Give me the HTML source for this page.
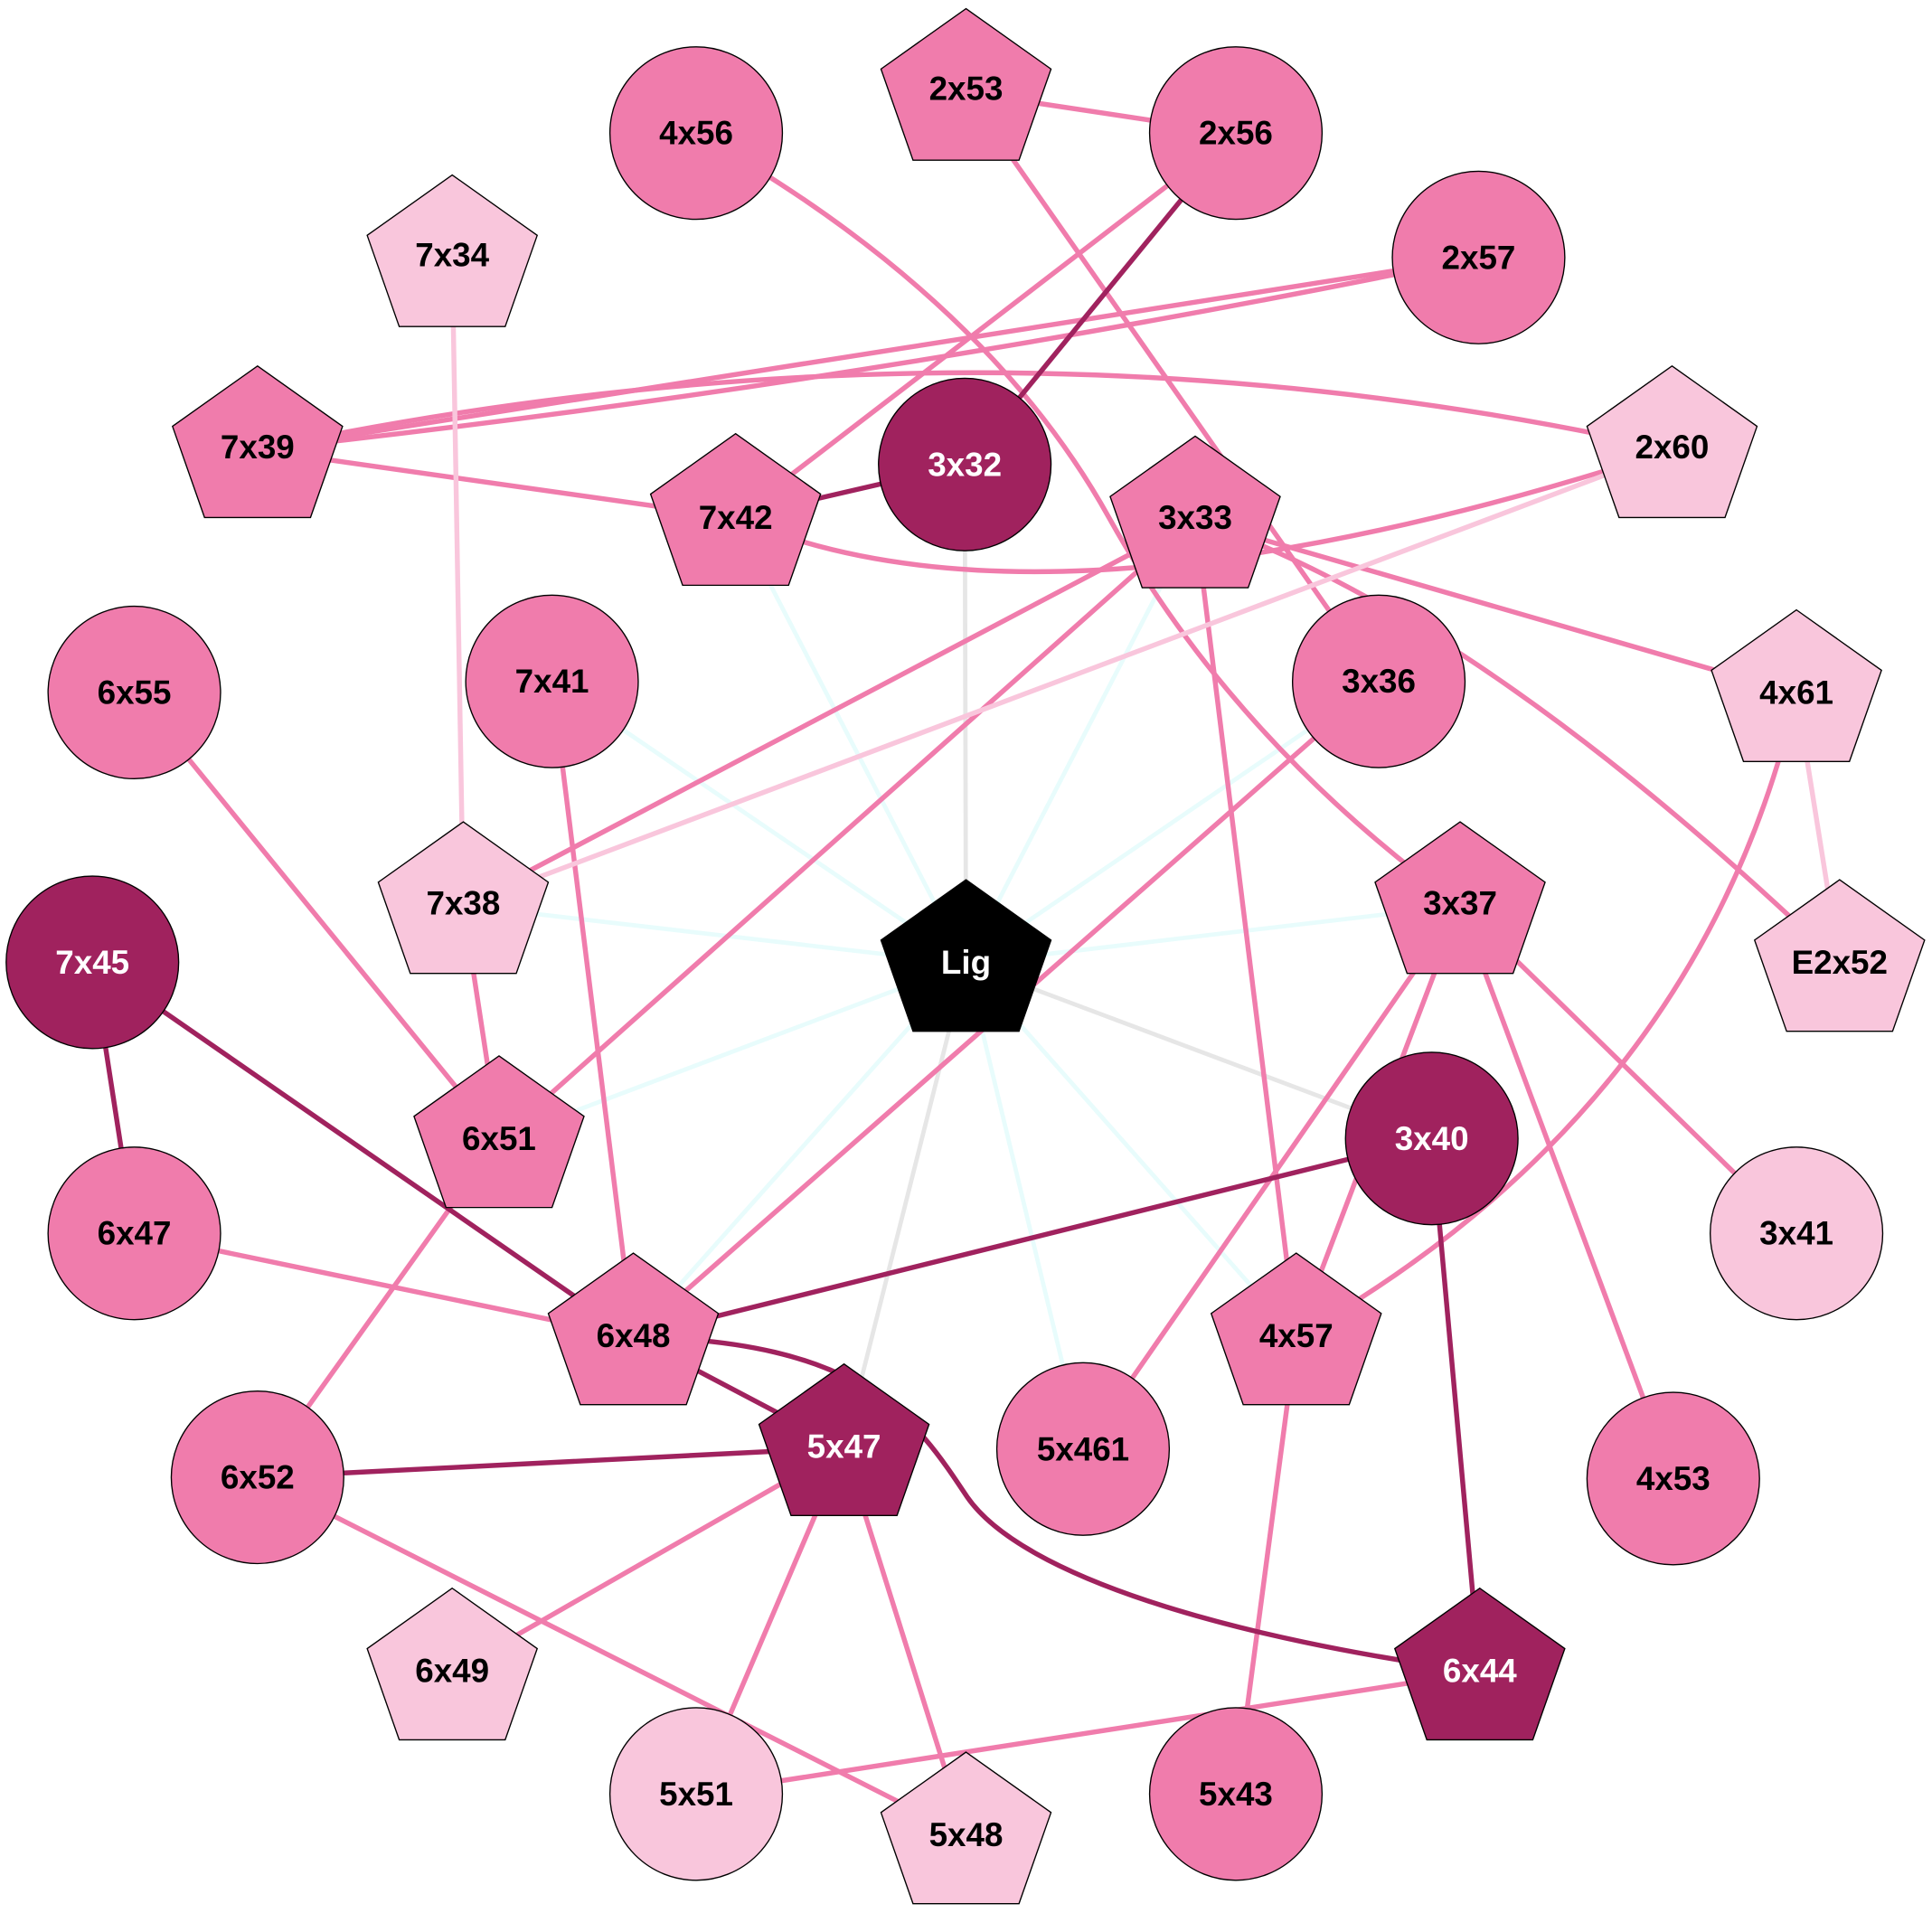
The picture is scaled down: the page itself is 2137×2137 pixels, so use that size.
<!DOCTYPE html>
<html><head><meta charset="utf-8"><style>html,body{margin:0;padding:0;background:#fff}svg{display:block}</style></head>
<body>
<svg width="2137" height="2137" viewBox="0 0 1568 1568" xmlns="http://www.w3.org/2000/svg">
<defs>
<g id="pent"><polygon points="0,-68 69,-19 43,55 -43,55 -69,-19" stroke="#000" stroke-width="1"/></g>
</defs>
<g fill="none" stroke-width="4">
<g stroke="#e8fcfc" stroke-width="3.5">
<line x1="784" y1="782" x2="597" y2="420"/><line x1="784" y1="782" x2="970" y2="422"/>
<line x1="784" y1="782" x2="448" y2="553"/><line x1="784" y1="782" x2="1119" y2="553"/>
<line x1="784" y1="782" x2="376" y2="735"/><line x1="784" y1="782" x2="1185" y2="735"/>
<line x1="784" y1="782" x2="405" y2="925"/><line x1="784" y1="782" x2="514" y2="1085"/>
<line x1="784" y1="782" x2="1052" y2="1085"/><line x1="784" y1="782" x2="879" y2="1176"/>
</g>
<g stroke="#e6e6e6" stroke-width="3.5">
<line x1="784" y1="782" x2="783" y2="377"/><line x1="784" y1="782" x2="1162" y2="924"/>
<line x1="784" y1="782" x2="685" y2="1175"/>
</g>
<g stroke="#f07cac">
<line x1="784" y1="75" x2="1003" y2="108"/>
<line x1="1003" y1="108" x2="597" y2="420"/>
<line x1="1200" y1="209" x2="209" y2="365"/>
<path d="M209,365 Q700,312 1200,209"/>
<path d="M565,108 Q800,240 900,420 Q1000,600 1185,735"/>
<line x1="784" y1="75" x2="1119" y2="553"/>
<path d="M209,365 Q800,240 1357,365"/>
<line x1="209" y1="365" x2="597" y2="420"/>
<path d="M597,420 Q850,530 1357,365"/>
<line x1="970" y1="422" x2="376" y2="735"/>
<line x1="970" y1="422" x2="405" y2="925"/>
<line x1="970" y1="422" x2="1458" y2="563"/>
<path d="M970,422 Q1200,500 1493,782"/>
<line x1="970" y1="422" x2="1052" y2="1085"/>
<line x1="1119" y1="553" x2="514" y2="1085"/>
<line x1="448" y1="553" x2="514" y2="1085"/>
<line x1="109" y1="562" x2="405" y2="925"/>
<line x1="376" y1="735" x2="405" y2="925"/>
<path d="M1458,563 Q1380,900 1052,1085"/>
<line x1="1185" y1="735" x2="1458" y2="1001"/>
<line x1="1185" y1="735" x2="1358" y2="1200"/>
<line x1="1185" y1="735" x2="879" y2="1176"/>
<line x1="1185" y1="735" x2="1052" y2="1085"/>
<line x1="109" y1="1001" x2="514" y2="1085"/>
<line x1="405" y1="925" x2="209" y2="1199"/>
<line x1="209" y1="1199" x2="784" y2="1490"/>
<line x1="685" y1="1175" x2="367" y2="1357"/>
<line x1="685" y1="1175" x2="565" y2="1456"/>
<line x1="685" y1="1175" x2="784" y2="1490"/>
<line x1="1201" y1="1357" x2="565" y2="1456"/>
<line x1="1052" y1="1085" x2="1003" y2="1456"/>
</g>
<g stroke="#f9c6dc">
<line x1="367" y1="210" x2="376" y2="735"/>
<line x1="1357" y1="365" x2="376" y2="735"/>
<line x1="1458" y1="563" x2="1493" y2="782"/>
</g>
<g stroke="#a0225e">
<line x1="1003" y1="108" x2="783" y2="377"/>
<line x1="597" y1="420" x2="783" y2="377"/>
<line x1="75" y1="781" x2="109" y2="1001"/>
<line x1="75" y1="781" x2="514" y2="1085"/>
<line x1="1162" y1="924" x2="514" y2="1085"/>
<line x1="1162" y1="924" x2="1201" y2="1357"/>
<line x1="514" y1="1085" x2="685" y2="1175"/>
<path d="M514,1085 C700,1088 742,1150 785,1215 C830,1280 1000,1330 1201,1357"/>
<line x1="209" y1="1199" x2="685" y2="1175"/>
</g>
</g>
<g stroke="#000" stroke-width="1">
<circle cx="565" cy="108" r="70" fill="#f07cac"/>
<circle cx="1003" cy="108" r="70" fill="#f07cac"/>
<circle cx="1200" cy="209" r="70" fill="#f07cac"/>
<circle cx="783" cy="377" r="70" fill="#a0225e"/>
<circle cx="448" cy="553" r="70" fill="#f07cac"/>
<circle cx="1119" cy="553" r="70" fill="#f07cac"/>
<circle cx="109" cy="562" r="70" fill="#f07cac"/>
<circle cx="75" cy="781" r="70" fill="#a0225e"/>
<circle cx="1162" cy="924" r="70" fill="#a0225e"/>
<circle cx="109" cy="1001" r="70" fill="#f07cac"/>
<circle cx="1458" cy="1001" r="70" fill="#f9c6dc"/>
<circle cx="879" cy="1176" r="70" fill="#f07cac"/>
<circle cx="209" cy="1199" r="70" fill="#f07cac"/>
<circle cx="1358" cy="1200" r="70" fill="#f07cac"/>
<circle cx="565" cy="1456" r="70" fill="#f9c6dc"/>
<circle cx="1003" cy="1456" r="70" fill="#f07cac"/>
</g>
<use href="#pent" x="784" y="75" fill="#f07cac"/>
<use href="#pent" x="367" y="210" fill="#f9c6dc"/>
<use href="#pent" x="209" y="365" fill="#f07cac"/>
<use href="#pent" x="597" y="420" fill="#f07cac"/>
<use href="#pent" x="970" y="422" fill="#f07cac"/>
<use href="#pent" x="1357" y="365" fill="#f9c6dc"/>
<use href="#pent" x="1458" y="563" fill="#f9c6dc"/>
<use href="#pent" x="376" y="735" fill="#f9c6dc"/>
<use href="#pent" x="1185" y="735" fill="#f07cac"/>
<use href="#pent" x="784" y="782" fill="#000"/>
<use href="#pent" x="1493" y="782" fill="#f9c6dc"/>
<use href="#pent" x="405" y="925" fill="#f07cac"/>
<use href="#pent" x="514" y="1085" fill="#f07cac"/>
<use href="#pent" x="1052" y="1085" fill="#f07cac"/>
<use href="#pent" x="685" y="1175" fill="#a0225e"/>
<use href="#pent" x="1201" y="1357" fill="#a0225e"/>
<use href="#pent" x="367" y="1357" fill="#f9c6dc"/>
<use href="#pent" x="784" y="1490" fill="#f9c6dc"/>
<g font-family="Liberation Sans, sans-serif" font-weight="bold" font-size="27" text-anchor="middle" dominant-baseline="central" fill="#000">
<text x="565" y="108">4x56</text><text x="1003" y="108">2x56</text><text x="1200" y="209">2x57</text>
<text x="783" y="377" fill="#fff">3x32</text><text x="448" y="553">7x41</text><text x="1119" y="553">3x36</text>
<text x="109" y="562">6x55</text><text x="75" y="781" fill="#fff">7x45</text><text x="1162" y="924" fill="#fff">3x40</text>
<text x="109" y="1001">6x47</text><text x="1458" y="1001">3x41</text><text x="879" y="1176">5x461</text>
<text x="209" y="1199">6x52</text><text x="1358" y="1200">4x53</text><text x="565" y="1456">5x51</text>
<text x="1003" y="1456">5x43</text>
<text x="784" y="72">2x53</text><text x="367" y="207">7x34</text><text x="209" y="363">7x39</text>
<text x="597" y="420">7x42</text><text x="970" y="420">3x33</text><text x="1357" y="363">2x60</text>
<text x="1458" y="562">4x61</text><text x="376" y="733">7x38</text><text x="1185" y="733">3x37</text>
<text x="784" y="781" fill="#fff">Lig</text><text x="1493" y="781">E2x52</text><text x="405" y="924">6x51</text>
<text x="514" y="1084">6x48</text><text x="1052" y="1084">4x57</text><text x="685" y="1174" fill="#fff">5x47</text>
<text x="1201" y="1356" fill="#fff">6x44</text><text x="367" y="1356">6x49</text><text x="784" y="1489">5x48</text>
</g>
</svg>
</body></html>
